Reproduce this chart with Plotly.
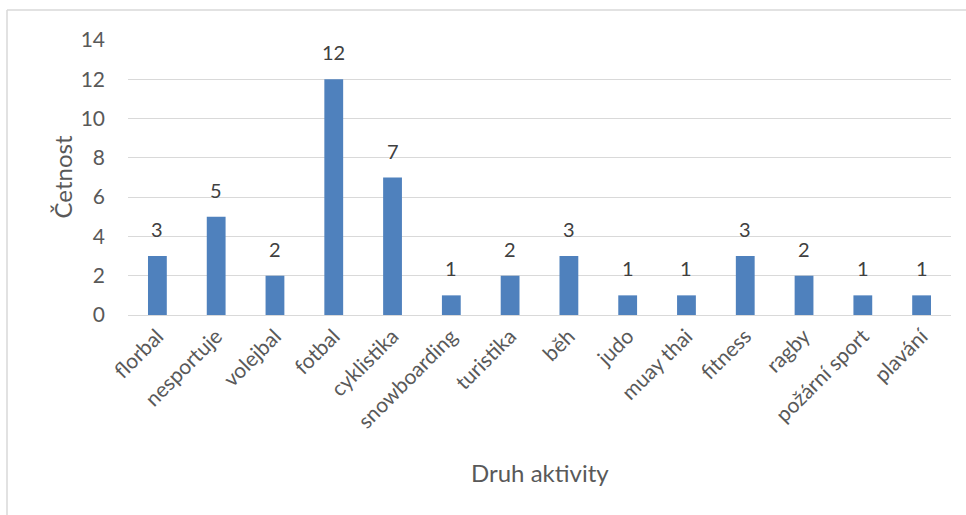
import plotly.graph_objects as go

# Frequency of sport activities
activities = ["florbal", "nesportuje", "volejbal", "fotbal", "cyklistika",
              "snowboarding", "turistika", "běh", "judo", "muay thai",
              "fitness", "ragby", "požární sport", "plavání"]
counts = [3, 5, 2, 12, 7, 1, 2, 3, 1, 1, 3, 2, 1, 1]
y_ticks = [0, 2, 4, 6, 8, 10, 12, 14]

W, H = 966, 515
L, R, T, B = 128, 15, 40, 200
plot_w = W - L - R
plot_h = H - T - B

def px_x(px):
    return (px - L) / plot_w

def px_y(py):
    return (H - B - py) / plot_h

FONT = "Lato, Calibri, Carlito, sans-serif"
TEXT_GREY = "#595959"

fig = go.Figure(go.Bar(
    x=activities,
    y=counts,
    marker=dict(color="#4F81BD", line=dict(width=0)),
))

# value labels above each bar
value_labels = [
    dict(x=a, y=c, xref="x", yref="y", text=str(c), showarrow=False,
         xanchor="center", yanchor="bottom", yshift=13,
         font=dict(size=20, color="#404040", family=FONT))
    for a, c in zip(activities, counts)
]

fig.update_layout(
    width=W, height=H,
    margin=dict(l=L, r=R, t=T, b=B),
    paper_bgcolor="white",
    plot_bgcolor="white",
    bargap=0.68,
    showlegend=False,
    font=dict(family=FONT, color=TEXT_GREY),
    xaxis=dict(
        type="category",
        tickangle=-45,
        tickfont=dict(size=21, color=TEXT_GREY),
        showgrid=False,
        showline=False,
        ticks="",
        ticklabelstandoff=4,
    ),
    yaxis=dict(
        range=[0, 14],
        tickvals=y_ticks,
        tickfont=dict(size=21, color=TEXT_GREY),
        showgrid=True,
        gridcolor="#D9D9D9",
        gridwidth=1.3,
        zeroline=True,
        zerolinecolor="#D9D9D9",
        zerolinewidth=1.3,
        showline=False,
        ticks="",
        ticklabelstandoff=22,
    ),
    annotations=value_labels + [
        dict(text="Četnost", x=px_x(62), y=0.5, xref="paper", yref="paper",
             textangle=-90, showarrow=False, xanchor="center", yanchor="middle",
             font=dict(size=24, color=TEXT_GREY, family=FONT)),
        dict(text="Druh aktivity", x=0.5, y=px_y(472), xref="paper", yref="paper",
             showarrow=False, xanchor="center", yanchor="middle",
             font=dict(size=24, color=TEXT_GREY, family=FONT)),
    ],
    shapes=[
        dict(type="line", xref="paper", yref="paper",
             x0=px_x(7), x1=px_x(W + 5), y0=px_y(10), y1=px_y(10),
             line=dict(color="#D9D9D9", width=1.5)),
        dict(type="line", xref="paper", yref="paper",
             x0=px_x(7), x1=px_x(7), y0=px_y(10), y1=px_y(H + 5),
             line=dict(color="#D9D9D9", width=1.5)),
    ],
)

fig.write_html("out.html")
